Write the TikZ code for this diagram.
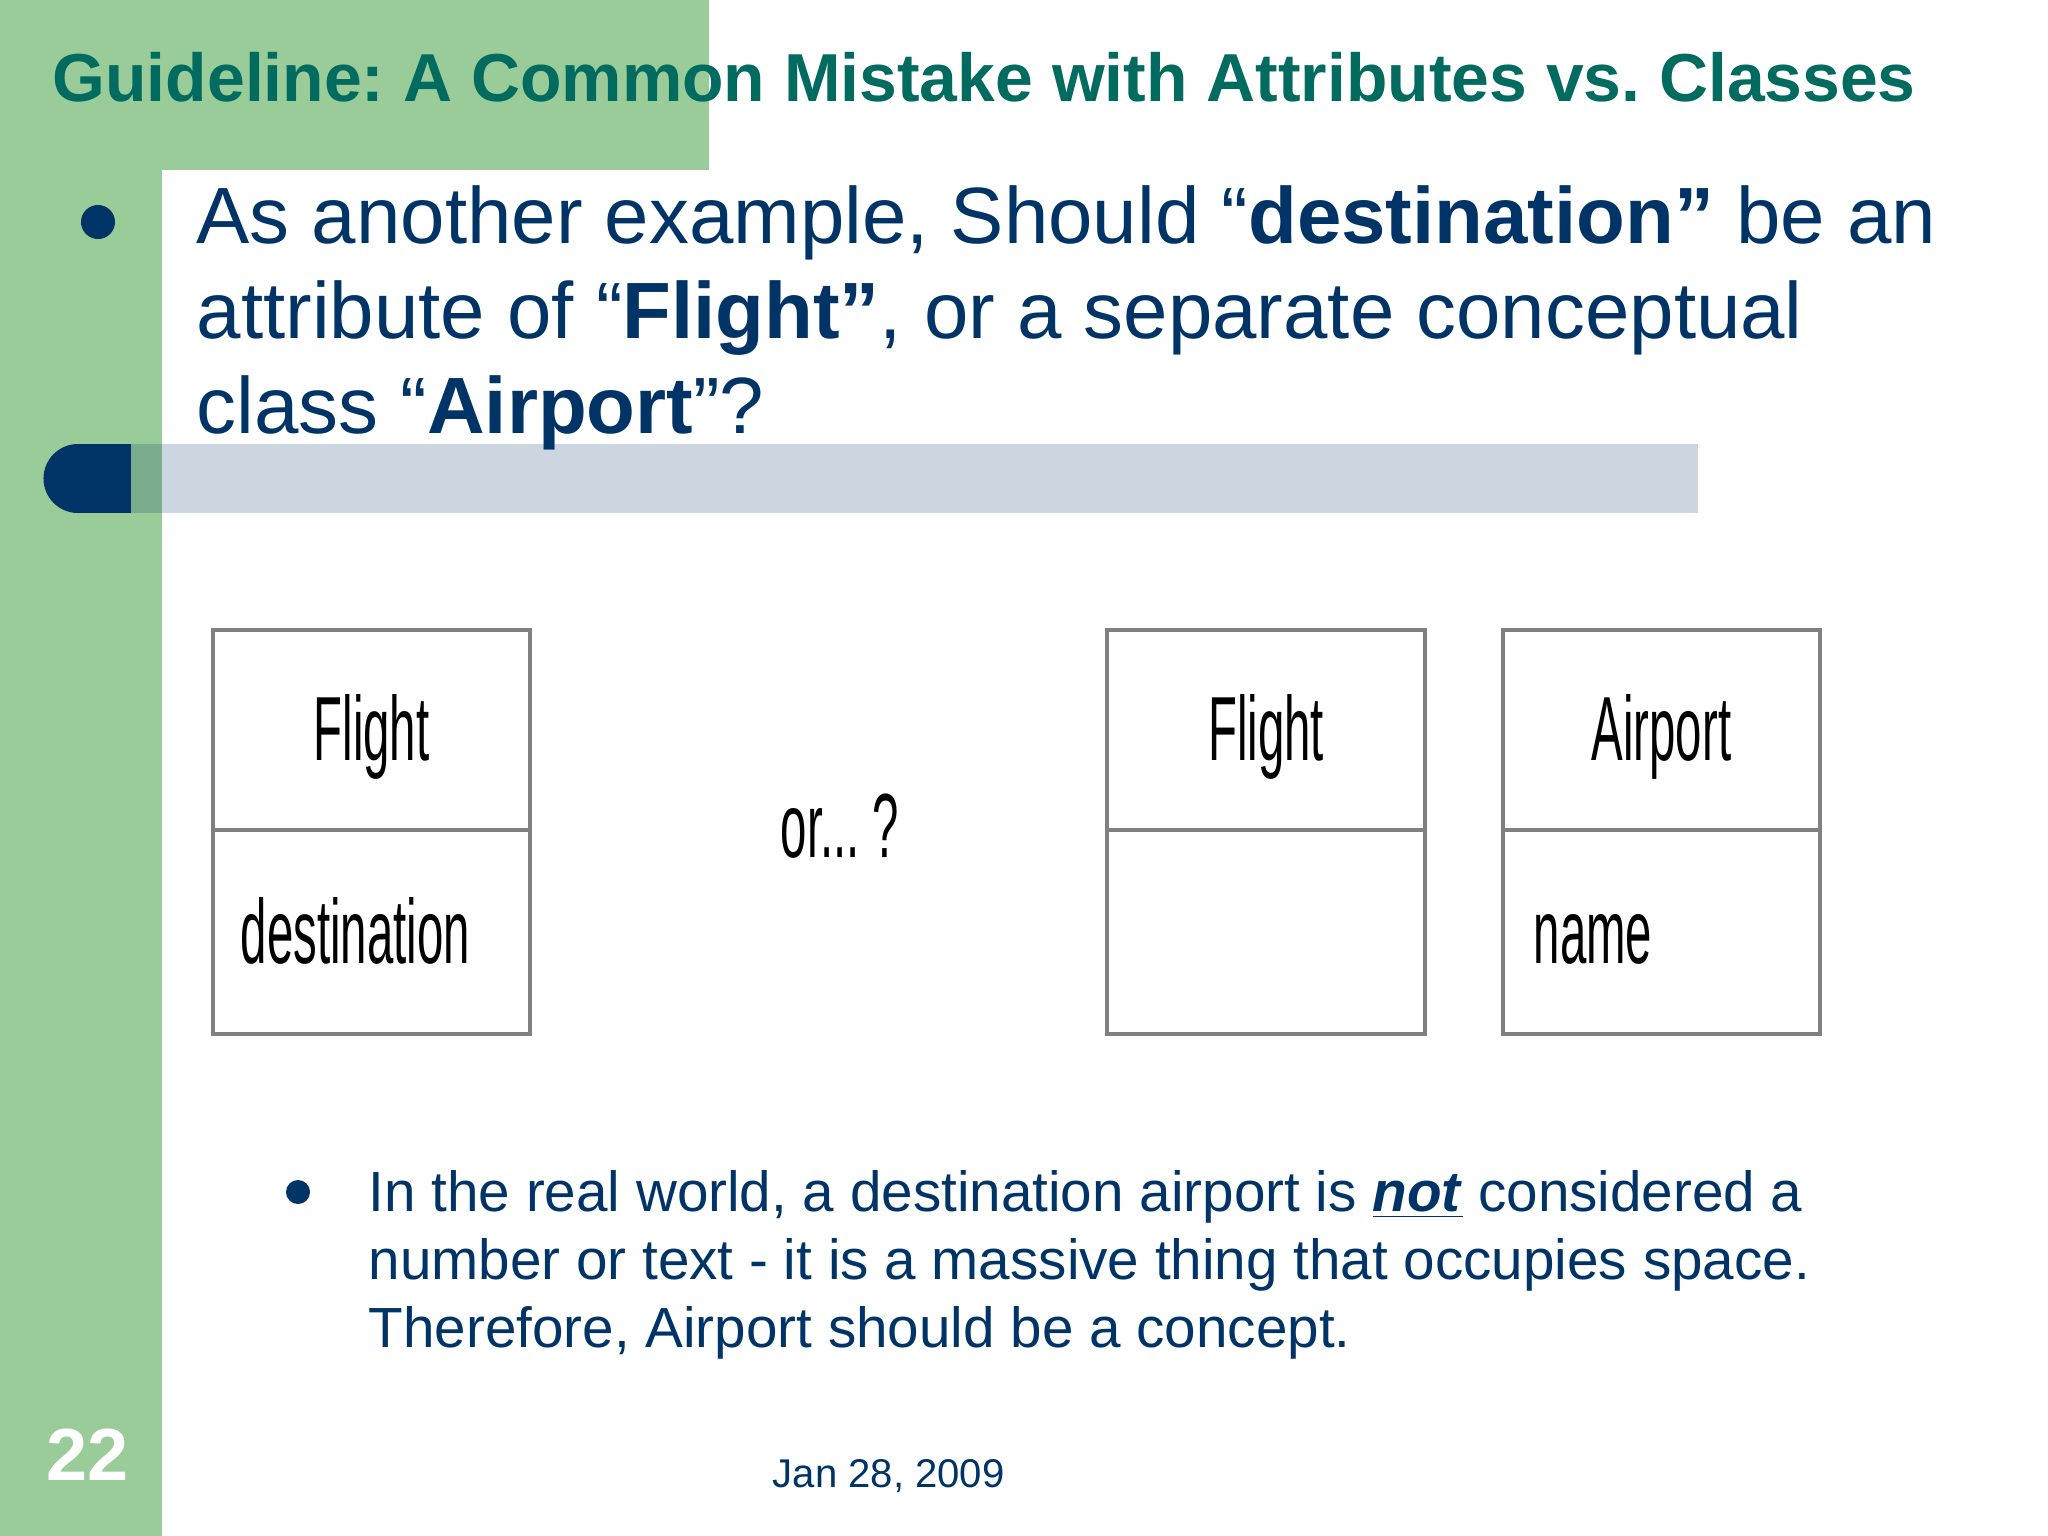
\documentclass[tikz,border=0pt]{standalone}
\usepackage{fontspec}
\setmainfont{Liberation Sans}
\usepackage{graphicx}
\frenchspacing

\definecolor{slidegreen}{RGB}{153,204,153}
\definecolor{titleteal}{RGB}{0,107,94}
\definecolor{navy}{RGB}{0,51,102}
\definecolor{boxgray}{RGB}{128,128,128}

\newcommand{\narrowtext}[1]{\scalebox{0.52}[1]{#1}}

\tikzset{
  titletext/.style={anchor=base west, inner sep=0pt, text=titleteal, font=\fontsize{19.3}{23}\selectfont\bfseries},
  mainline/.style={anchor=base west, inner sep=0pt, text=navy, font=\fontsize{22.7}{27}\selectfont},
  subline/.style={anchor=base west, inner sep=0pt, text=navy, font=\fontsize{16.1}{19}\selectfont},
  dotmark/.style={circle, fill=navy, inner sep=0pt},
  umlbox/.style={draw=boxgray, line width=1.2pt},
  umltext/.style={inner sep=0pt, font=\fontsize{25.9}{30}\selectfont}
}

\begin{document}
\begin{tikzpicture}[x=0.01cm, y=-0.01cm]
    \clip (0,0) rectangle (2048,1536);
    \fill[white] (0,0) rectangle (2048,1536);

    \fill[slidegreen] (0,0) rectangle (709,170);
    \fill[slidegreen] (0,0) rectangle (162,1536);
    \fill[white] (162,1536) -- (162,232) .. controls (162,197) and (189,170) .. (222,170)
        -- (2048,170) -- (2048,1536) -- cycle;

    \fill[navy, opacity=0.2] (131,444) rectangle (1698,513);
    \fill[navy] (78,444) rectangle (131,513);
    \fill[navy] (78,478.5) circle[radius=3.45mm];

    \node[titletext] (title) at (52,101) {Guideline: A Common Mistake with Attributes vs. Classes};

    \node[dotmark, minimum size=3.4mm] (dot1) at (98,222) {};
    \node[mainline] (q1) at (196,243) {As another example, Should “\textbf{destination”} be an};
    \node[mainline] (q2) at (196,338) {attribute of “\textbf{Flight”}, or a separate conceptual};
    \node[mainline] (q3) at (196,433) {class “\textbf{Airport}”?};

    \draw[umlbox] (213,630) rectangle (530,1034);
    \draw[umlbox] (213,830) -- (530,830);
    \node[umltext, anchor=base] (flight1) at (371.5,760) {\narrowtext{Flight}};
    \node[umltext, anchor=base west] (dest) at (240,963) {\narrowtext{destination}};

    \node[umltext, anchor=base west] (orq) at (780,857) {\narrowtext{or... ?}};

    \draw[umlbox] (1107,630) rectangle (1425,1034);
    \draw[umlbox] (1107,830) -- (1425,830);
    \node[umltext, anchor=base] (flight2) at (1266,760) {\narrowtext{Flight}};

    \draw[umlbox] (1503,630) rectangle (1820,1034);
    \draw[umlbox] (1503,830) -- (1820,830);
    \node[umltext, anchor=base] (airport) at (1661.5,760) {\narrowtext{Airport}};
    \node[umltext, anchor=base west] (name) at (1533,963) {\narrowtext{name}};

    \node[dotmark, minimum size=2.4mm] (dot2) at (298,1192) {};
    \node[subline] (s1) at (368,1211) {In the real world, a destination airport is \underline{\textbf{\textit{not}}} considered a};
    \node[subline] (s2) at (368,1279) {number or text - it is a massive thing that occupies space.};
    \node[subline] (s3) at (368,1347) {Therefore, Airport should be a concept.};

    \node[anchor=base west, inner sep=0pt, text=white, font=\fontsize{21}{25}\selectfont\bfseries] (page) at (46,1480) {22};
    \node[anchor=base west, inner sep=0pt, text=navy, font=\fontsize{11.4}{14}\selectfont] (date) at (772,1487) {Jan 28, 2009};
\end{tikzpicture}
\end{document}
